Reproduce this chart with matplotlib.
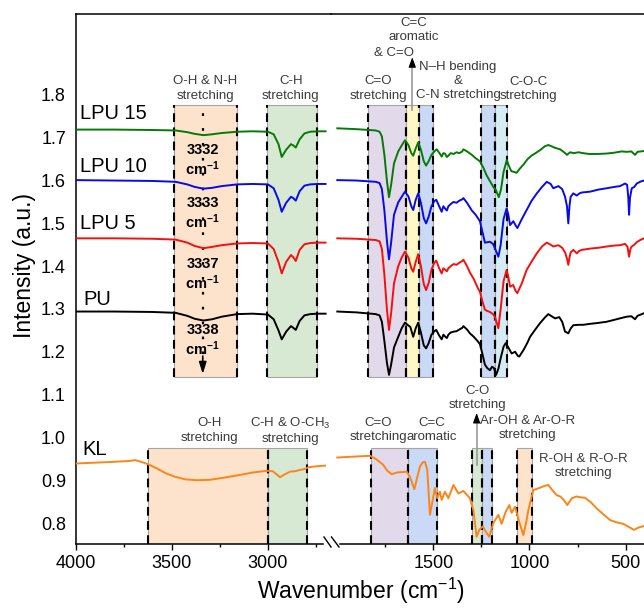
import numpy as np
import matplotlib
matplotlib.use('Agg')
import matplotlib.pyplot as plt
from matplotlib.patches import Rectangle
from matplotlib.lines import Line2D

plt.rcParams['font.family'] = ['Liberation Sans', 'DejaVu Sans']
plt.rcParams['mathtext.fontset'] = 'custom'
plt.rcParams['mathtext.rm'] = 'Liberation Sans'
plt.rcParams['mathtext.it'] = 'Liberation Sans:italic'
plt.rcParams['mathtext.bf'] = 'Liberation Sans:bold'

# ---------------- data (wavenumber, intensity) ----------------
# upper spectra, high-wavenumber segment
LPU15_L = [(4000,1.719),(3800,1.719),(3600,1.718),(3480,1.717),(3420,1.713),(3380,1.709),(3335,1.706),(3290,1.708),(3240,1.711),(3160,1.714),(3080,1.715),(3000,1.714),(2970,1.708),(2945,1.685),(2928,1.655),(2905,1.672),(2880,1.685),(2868,1.682),(2855,1.677),(2835,1.696),(2810,1.710),(2780,1.714),(2740,1.715),(2700,1.715)]
LPU10_L = [(4000,1.601),(3800,1.600),(3600,1.599),(3480,1.597),(3420,1.591),(3380,1.585),(3335,1.581),(3290,1.583),(3240,1.587),(3160,1.591),(3080,1.592),(3000,1.591),(2970,1.582),(2945,1.555),(2928,1.527),(2905,1.548),(2880,1.562),(2868,1.559),(2855,1.553),(2835,1.575),(2810,1.588),(2780,1.591),(2740,1.592),(2700,1.592)]
LPU5_L = [(4000,1.465),(3800,1.465),(3600,1.464),(3480,1.462),(3420,1.455),(3380,1.447),(3335,1.442),(3290,1.445),(3240,1.449),(3160,1.453),(3080,1.454),(3000,1.453),(2970,1.440),(2945,1.410),(2928,1.383),(2905,1.410),(2880,1.426),(2868,1.421),(2855,1.412),(2835,1.438),(2810,1.451),(2780,1.454),(2740,1.455),(2700,1.455)]
PU_L = [(4000,1.294),(3800,1.294),(3600,1.293),(3480,1.291),(3420,1.284),(3380,1.277),(3335,1.273),(3290,1.276),(3240,1.282),(3160,1.288),(3080,1.289),(3000,1.287),(2970,1.276),(2945,1.250),(2928,1.229),(2905,1.247),(2880,1.260),(2868,1.256),(2855,1.251),(2835,1.272),(2810,1.285),(2780,1.288),(2740,1.289),(2700,1.289)]
KL_L = [(4000,0.939),(3900,0.941),(3800,0.943),(3720,0.945),(3691,0.947),(3660,0.943),(3622,0.937),(3580,0.928),(3530,0.916),(3483,0.908),(3430,0.902),(3370,0.900),(3300,0.901),(3214,0.907),(3150,0.912),(3080,0.918),(3006,0.922),(2975,0.921),(2955,0.914),(2937,0.907),(2915,0.913),(2885,0.920),(2860,0.921),(2833,0.924),(2810,0.926),(2790,0.930),(2760,0.932),(2730,0.933),(2703,0.934)]

# low-wavenumber segment
LPU15_R = [(2000,1.722),(1900,1.720),(1800,1.717),(1780,1.714),(1768,1.703),(1755,1.66),(1742,1.60),(1731,1.561),(1720,1.59),(1705,1.64),(1683,1.668),(1665,1.682),(1648,1.694),(1630,1.683),(1615,1.664),(1605,1.658),(1592,1.675),(1579,1.689),(1565,1.672),(1550,1.645),(1538,1.635),(1525,1.645),(1510,1.660),(1495,1.668),(1483,1.673),(1470,1.665),(1457,1.656),(1448,1.664),(1440,1.663),(1430,1.655),(1422,1.658),(1410,1.664),(1395,1.662),(1380,1.666),(1365,1.664),(1350,1.668),(1344,1.673),(1325,1.668),(1300,1.660),(1280,1.652),(1258,1.645),(1240,1.630),(1223,1.612),(1205,1.598),(1188,1.585),(1175,1.578),(1160,1.561),(1148,1.580),(1135,1.620),(1118,1.648),(1108,1.635),(1095,1.622),(1080,1.620),(1067,1.618),(1050,1.628),(1030,1.638),(1010,1.650),(990,1.658),(965,1.665),(945,1.671),(920,1.680),(902,1.683),(885,1.680),(865,1.676),(841,1.673),(820,1.666),(805,1.660),(789,1.666),(770,1.664),(745,1.666),(721,1.664),(690,1.662),(650,1.662),(600,1.663),(560,1.665),(520,1.668),(494,1.667),(470,1.668),(451,1.660),(438,1.667),(404,1.669)]
LPU10_R = [(2000,1.601),(1900,1.600),(1800,1.597),(1780,1.594),(1768,1.580),(1755,1.530),(1742,1.460),(1731,1.416),(1720,1.455),(1705,1.520),(1683,1.549),(1665,1.562),(1648,1.574),(1630,1.563),(1615,1.540),(1605,1.531),(1592,1.555),(1579,1.570),(1565,1.548),(1550,1.512),(1538,1.500),(1525,1.515),(1510,1.540),(1495,1.552),(1485,1.555),(1470,1.540),(1457,1.527),(1448,1.540),(1440,1.535),(1430,1.530),(1422,1.540),(1410,1.545),(1395,1.550),(1380,1.548),(1365,1.553),(1350,1.556),(1344,1.559),(1325,1.548),(1300,1.530),(1280,1.520),(1258,1.505),(1245,1.480),(1232,1.455),(1218,1.456),(1206,1.457),(1190,1.452),(1180,1.442),(1162,1.422),(1150,1.450),(1135,1.510),(1119,1.535),(1110,1.520),(1101,1.496),(1084,1.505),(1072,1.495),(1063,1.489),(1040,1.510),(1015,1.531),(990,1.552),(962,1.570),(935,1.585),(910,1.597),(890,1.592),(876,1.582),(850,1.587),(830,1.580),(815,1.562),(805,1.540),(798,1.500),(792,1.540),(786,1.562),(772,1.570),(754,1.565),(740,1.570),(728,1.572),(685,1.574),(640,1.579),(598,1.582),(560,1.585),(529,1.587),(503,1.593),(492,1.590),(486,1.560),(482,1.520),(477,1.560),(468,1.582),(455,1.585),(442,1.593),(420,1.598),(404,1.600)]
LPU5_R = [(2000,1.465),(1900,1.464),(1800,1.461),(1780,1.458),(1768,1.440),(1755,1.380),(1742,1.300),(1731,1.251),(1720,1.290),(1705,1.360),(1683,1.400),(1665,1.420),(1648,1.434),(1630,1.420),(1615,1.395),(1605,1.387),(1592,1.410),(1579,1.428),(1565,1.400),(1550,1.358),(1538,1.344),(1525,1.360),(1510,1.392),(1495,1.408),(1485,1.413),(1470,1.395),(1457,1.383),(1448,1.395),(1440,1.392),(1430,1.388),(1422,1.395),(1410,1.400),(1395,1.405),(1380,1.403),(1365,1.408),(1350,1.412),(1344,1.415),(1325,1.400),(1310,1.385),(1290,1.370),(1270,1.350),(1258,1.340),(1245,1.318),(1232,1.298),(1218,1.295),(1206,1.293),(1190,1.288),(1180,1.282),(1162,1.255),(1150,1.300),(1135,1.365),(1119,1.391),(1110,1.375),(1101,1.352),(1085,1.356),(1072,1.342),(1063,1.337),(1040,1.360),(1015,1.391),(990,1.410),(962,1.430),(935,1.446),(910,1.455),(890,1.450),(876,1.446),(850,1.449),(830,1.443),(815,1.432),(805,1.418),(798,1.403),(792,1.420),(786,1.432),(772,1.438),(754,1.430),(740,1.436),(728,1.438),(685,1.441),(640,1.443),(598,1.446),(560,1.448),(529,1.449),(503,1.452),(490,1.445),(482,1.422),(475,1.440),(468,1.446),(455,1.450),(442,1.456),(420,1.462),(404,1.465)]
PU_R = [(2000,1.294),(1900,1.292),(1800,1.288),(1780,1.285),(1768,1.270),(1755,1.225),(1742,1.175),(1731,1.146),(1720,1.170),(1705,1.210),(1683,1.235),(1665,1.255),(1648,1.268),(1632,1.262),(1620,1.258),(1605,1.235),(1592,1.255),(1579,1.268),(1565,1.245),(1550,1.215),(1538,1.208),(1525,1.220),(1510,1.240),(1495,1.248),(1485,1.251),(1470,1.238),(1457,1.229),(1448,1.240),(1440,1.236),(1430,1.232),(1422,1.240),(1410,1.245),(1395,1.247),(1380,1.248),(1365,1.252),(1350,1.256),(1344,1.260),(1325,1.252),(1310,1.243),(1290,1.235),(1270,1.225),(1258,1.218),(1245,1.195),(1232,1.170),(1220,1.162),(1206,1.157),(1195,1.165),(1185,1.162),(1174,1.146),(1162,1.160),(1150,1.185),(1135,1.212),(1124,1.220),(1110,1.210),(1093,1.196),(1075,1.200),(1060,1.190),(1053,1.189),(1030,1.205),(1010,1.222),(997,1.235),(970,1.252),(945,1.267),(920,1.280),(902,1.288),(885,1.283),(867,1.278),(845,1.281),(830,1.270),(815,1.247),(805,1.245),(798,1.243),(785,1.255),(772,1.262),(745,1.263),(720,1.263),(690,1.265),(650,1.267),(600,1.270),(564,1.274),(530,1.278),(494,1.282),(470,1.283),(451,1.276),(438,1.284),(404,1.290)]
KL_R = [(2000,0.953),(1920,0.955),(1830,0.957),(1800,0.950),(1761,0.936),(1740,0.922),(1717,0.914),(1690,0.918),(1660,0.919),(1639,0.920),(1622,0.908),(1599,0.879),(1585,0.905),(1570,0.932),(1555,0.942),(1544,0.943),(1532,0.925),(1518,0.819),(1505,0.850),(1492,0.882),(1480,0.858),(1466,0.873),(1457,0.854),(1440,0.873),(1422,0.858),(1396,0.889),(1370,0.869),(1344,0.875),(1310,0.858),(1292,0.830),(1275,0.768),(1260,0.785),(1243,0.792),(1225,0.778),(1209,0.768),(1188,0.800),(1162,0.819),(1145,0.798),(1125,0.825),(1105,0.842),(1093,0.824),(1075,0.838),(1055,0.805),(1032,0.772),(1018,0.800),(1006,0.830),(980,0.877),(954,0.881),(925,0.886),(902,0.889),(880,0.876),(858,0.865),(840,0.862),(824,0.855),(803,0.842),(780,0.858),(755,0.862),(735,0.860),(711,0.859),(680,0.848),(650,0.834),(620,0.822),(581,0.807),(550,0.802),(512,0.798),(480,0.790),(456,0.784),(430,0.790),(404,0.793)]

SAMPLES = ['LPU 15', 'LPU 10', 'LPU 5', 'PU', 'KL']
SERIES_L = [LPU15_L, LPU10_L, LPU5_L, PU_L, KL_L]
SERIES_R = [LPU15_R, LPU10_R, LPU5_R, PU_R, KL_R]
COLORS = ['#067a06', '#0a0ae6', '#f51010', '#000000', '#fb8618']
LABEL_POS = [(3978, 1.756), (3978, 1.633), (3978, 1.500), (3962, 1.323), (3964, 0.972)]

PEAK_LABELS = ['3332', '3333', '3337', '3338']
PEAK_LABEL_Y = [1.646, 1.522, 1.381, 1.227]

# band regions: (high, low, colour)
UPPER_BANDS_L = [(3490, 3160, '#fde3cc'), (3005, 2745, '#d7e9d3')]
UPPER_BANDS_R = [(1842, 1643, '#e2d9ea'), (1643, 1573, '#fff8c6'), (1573, 1500, '#c9d9f6'),
                 (1254, 1178, '#c9d9f6'), (1178, 1115, '#d6ecf4')]
UPPER_Y = (1.141, 1.777)
LOWER_BANDS_L = [(3622, 3000, '#fde3cc'), (3000, 2795, '#d7e9d3')]
LOWER_BANDS_R = [(1826, 1631, '#e2d9ea'), (1631, 1483, '#c9d9f6'), (1301, 1249, '#d7e9d3'),
                 (1249, 1197, '#c9d9f6'), (1063, 989, '#fde3cc')]
LOWER_Y = (0.751, 0.975)

# ---------------- figure / axes geometry ----------------
W, H = 644, 610
fig = plt.figure(figsize=(W / 100, H / 100), dpi=100)
S = 0.1922             # px per cm-1
x0L, xb, xEnd = 75.7, 331.0, 650.0
yb, yt = 544.0, 14.0

def fx(px):
    return px / W

def fy(py):
    return 1 - py / H

axL = fig.add_axes([fx(x0L), fy(yb), (xb - x0L) / W, (yb - yt) / H])
axR = fig.add_axes([fx(xb), fy(yb), (xEnd - xb) / W, (yb - yt) / H], sharey=axL)
axL.set_xlim(4000, 4000 - (xb - x0L) / S)
axR.set_xlim(1000 + (529.5 - xb) / S, 1000 - (xEnd - 529.5) / S)
axL.set_ylim(0.751, 1.989)

for ax in (axL, axR):
    ax.set_facecolor('none')
    for sp in ax.spines.values():
        sp.set_linewidth(1.1)
    ax.spines['right'].set_visible(False)
    ax.tick_params(axis='x', which='major', direction='out', length=4.5, width=1.0,
                   labelsize=13, pad=3.5)
    ax.tick_params(axis='x', which='minor', direction='out', length=2.5, width=1.0)
axR.spines['left'].set_visible(False)
axL.spines['bottom'].set_bounds(4000, 2712)
axR.spines['bottom'].set_bounds(1986, 300)
axL.set_xticks([4000, 3500, 3000])
axL.set_xticks([3750, 3250, 2750], minor=True)
axR.set_xticks([1500, 1000, 500])
axR.set_xticks([1750, 1250, 750], minor=True)
axL.set_yticks([0.8, 0.9, 1.0, 1.1, 1.2, 1.3, 1.4, 1.5, 1.6, 1.7, 1.8])
axL.tick_params(axis='y', length=0, labelsize=13, pad=7)
axR.tick_params(axis='y', left=False, labelleft=False, length=0)

# ---------------- bands ----------------
def draw_bands(ax, bands, ylo, yhi):
    for hi, lo, c in bands:
        ax.add_patch(Rectangle((lo, ylo), hi - lo, yhi - ylo, facecolor=c,
                               edgecolor='#a5a5a5', lw=0.8, zorder=0.5))
        ax.vlines([hi, lo], ylo, yhi, colors='k', linestyles=(0, (4.2, 2.6)),
                  lw=1.5, zorder=1)

draw_bands(axL, UPPER_BANDS_L, *UPPER_Y)
draw_bands(axR, UPPER_BANDS_R, *UPPER_Y)
draw_bands(axL, LOWER_BANDS_L, *LOWER_Y)
draw_bands(axR, LOWER_BANDS_R, *LOWER_Y)

# ---------------- spectra ----------------
for name, sl, sr, c, (lx, ly) in zip(SAMPLES, SERIES_L, SERIES_R, COLORS, LABEL_POS):
    a = np.array(sl)
    b = np.array(sr)
    axL.plot(a[:, 0], a[:, 1], color=c, lw=1.4, zorder=3)
    axR.plot(b[:, 0], b[:, 1], color=c, lw=1.4, zorder=3)
    axL.text(lx, ly, name, fontsize=14.5, ha='left', va='center', zorder=4)

# dotted guide with arrow (O-H & N-H peak shift)
xg = 3339
axL.vlines(xg, 1.16, 1.777, colors='k', linestyles=(0, (1.2, 5.5)), lw=1.6, zorder=2)
axL.annotate('', xy=(xg, 1.148), xytext=(xg, 1.19),
             arrowprops=dict(arrowstyle='-|>,head_length=0.7,head_width=0.22',
                             color='k', lw=1.2, shrinkA=0, shrinkB=0), zorder=4)
for lab, y in zip(PEAK_LABELS, PEAK_LABEL_Y):
    axL.text(xg, y, lab + '\n' + r'$\mathbf{cm^{-1}}$', fontsize=10.5, fontweight='bold',
             ha='center', va='center', linespacing=1.15, zorder=5)

# ---------------- annotations ----------------
TC = '#3a3a3a'
FS = 9.5
def note(ax, x, y, s, ha='center'):
    ax.text(x, y, s, fontsize=FS, color=TC, ha=ha, va='center', linespacing=1.25, zorder=5)

note(axL, 3325, 1.815, 'O-H & N-H\nstretching')
note(axL, 2881, 1.815, 'C-H\nstretching')
note(axR, 1787, 1.815, 'C=O\nstretching')
note(axR, 1603, 1.951, 'C=C\naromatic')
note(axR, 1603, 1.897, '& C=O', ha='right')
note(axR, 1372, 1.833, 'N\u2013H bending\n&\nC-N stretching')
note(axR, 1003, 1.814, 'C-O-C\nstretching')

note(axL, 3306, 1.016, 'O-H\nstretching')
note(axL, 2885, 1.016, 'C-H & O-CH$_3$\nstretching')
note(axR, 1786, 1.017, 'C=O\nstretching')
note(axR, 1507, 1.017, 'C=C\naromatic')
note(axR, 1273, 1.092, 'C-O\nstretching')
note(axR, 1008, 1.0215, 'Ar-OH & Ar-O-R\nstretching')
note(axR, 719, 0.934, 'R-OH & R-O-R\nstretching')

def up_arrow(ax, x, y0, y1):
    ax.plot([x, x], [y0, y1 - 0.01], color='#999999', lw=1.2, zorder=4)
    ax.annotate('', xy=(x, y1), xytext=(x, y1 - 0.02),
                arrowprops=dict(arrowstyle='-|>,head_length=0.6,head_width=0.22',
                                color='k', lw=0.8, shrinkA=0, shrinkB=0), zorder=5)

up_arrow(axR, 1610, 1.765, 1.888)
up_arrow(axR, 1275, 0.935, 1.057)

# ---------------- axis break marks & labels ----------------
for (xa, xb2) in [(324, 331), (331.5, 339)]:
    fig.add_artist(Line2D([fx(xa), fx(xb2)], [fy(537), fy(547)], color='k', lw=1.0))

fig.text(fx(361), fy(591), 'Wavenumber (cm$^{-1}$)', ha='center', va='center', fontsize=16.5)
fig.text(fx(24), fy(266), 'Intensity (a.u.)', ha='center', va='center', rotation=90,
         fontsize=16.5)

fig.savefig('out.png', dpi=100)
